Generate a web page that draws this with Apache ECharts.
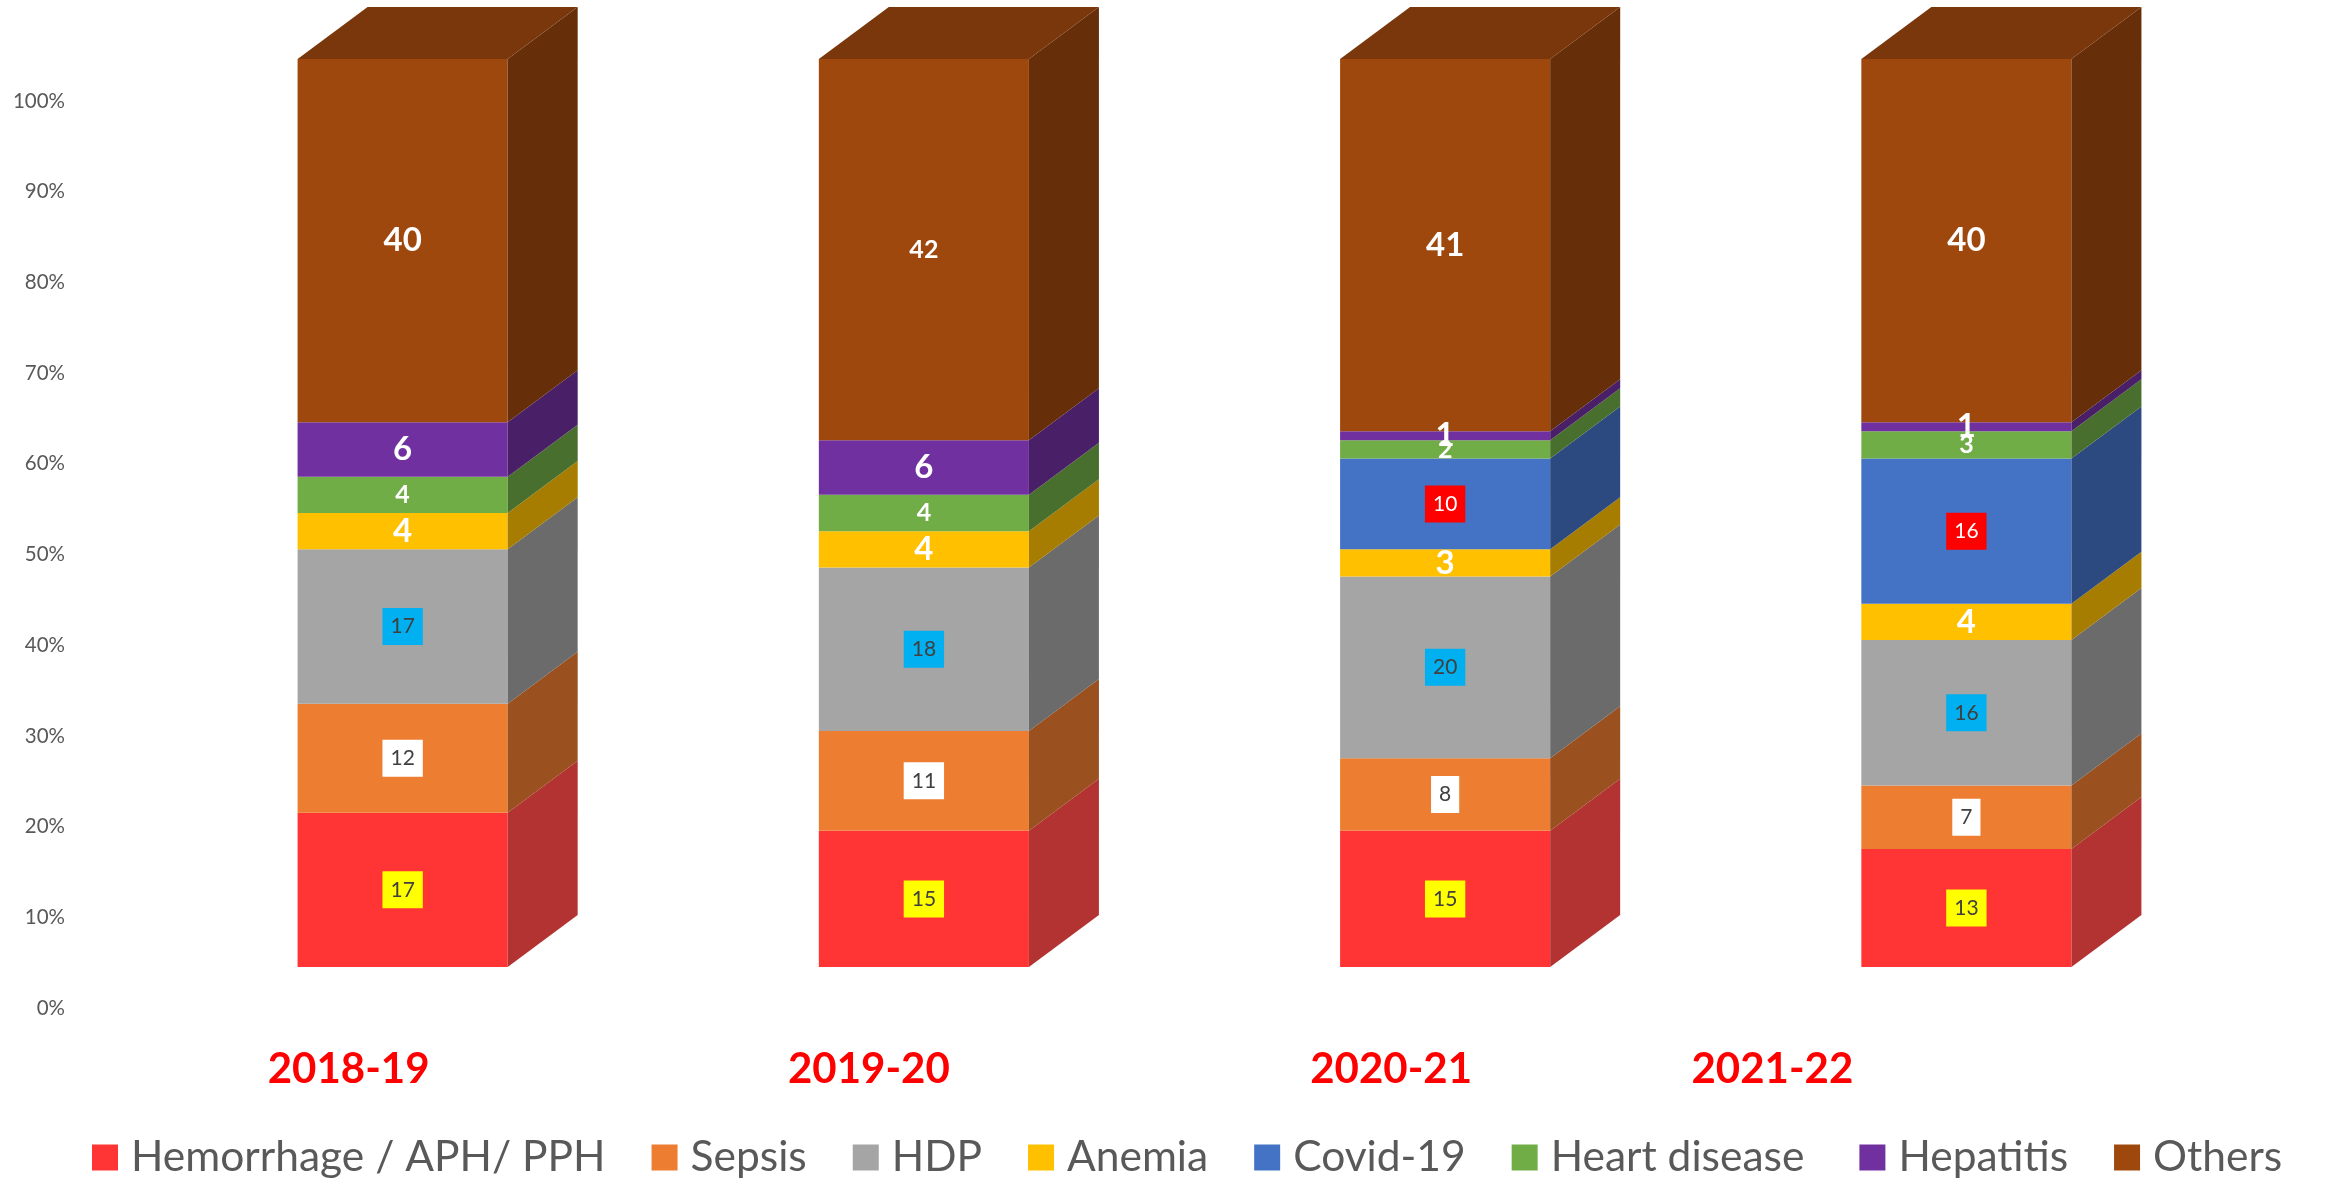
<!DOCTYPE html>
<html>
<head>
<meta charset="utf-8">
<script src="https://cdn.jsdelivr.net/npm/echarts@6/dist/echarts.min.js"></script>
<style>
  html, body { margin: 0; padding: 0; background: #ffffff; }
  #chart { width: 2328px; height: 1182px; }
</style>
</head>
<body>
<div id="chart"></div>
<script>
// ---------- data ----------
const categories = ['2018-19', '2019-20', '2020-21', '2021-22'];
const seriesNames = ['Hemorrhage / APH/ PPH', 'Sepsis', 'HDP', 'Anemia', 'Covid-19', 'Heart disease', 'Hepatitis', 'Others'];
const hemorrhage = [17, 15, 15, 13];
const sepsis     = [12, 11, 8, 7];
const hdp        = [17, 18, 20, 16];
const anemia     = [4, 4, 3, 4];
const covid      = [0, 0, 10, 16];
const heart      = [4, 4, 2, 3];
const hepatitis  = [6, 6, 1, 1];
const others     = [40, 42, 41, 40];
const valueTicks = [0, 10, 20, 30, 40, 50, 60, 70, 80, 90, 100];

// ---------- styles ----------
const allValues = [hemorrhage, sepsis, hdp, anemia, covid, heart, hepatitis, others];
const frontColors = ['#FF3535', '#ED7D31', '#A5A5A5', '#FFC000', '#4472C4', '#70AD47', '#7030A0', '#9E480E'];
const sideColors  = ['#B33232', '#9A501F', '#6B6B6B', '#A67D00', '#2C4A80', '#496F2E', '#491F68', '#672F09'];
const topColor = '#7A370B';
const FONT = 'Lato, "Open Sans", sans-serif';
const boxLabel = (bg, fg) => ({ font: '400 21px ' + FONT, fill: fg, backgroundColor: bg, padding: [8, 8, 8, 8], lineHeight: 21 });
const boldLabel = (size) => ({ font: '700 ' + size + 'px ' + FONT, fill: '#FFFFFF' });
const labelStyles = [
  boxLabel('#FFFF00', '#404040'),
  boxLabel('#FFFFFF', '#404040'),
  boxLabel('#00B0F0', '#404040'),
  boldLabel(33),
  boxLabel('#FF0000', '#FFFFFF'),
  boldLabel(25),
  boldLabel(33),
  boldLabel(33)
];
const labelOverrides = { '7-1': boldLabel(25) };
const DX = 70, DY = 52, BAR_FRAC = 0.403;

// cumulative stacking
const bases = categories.map(() => 0);
const seriesData = allValues.map(arr => arr.map((v, i) => {
  const b = bases[i];
  bases[i] += v;
  return [i, b, b + v, v];
}));

function makeRender(si) {
  const last = si === allValues.length - 1;
  return function (params, api) {
    const ci = api.value(0), base = api.value(1), topV = api.value(2), v = api.value(3);
    if (!v) return null;
    const p0 = api.coord([ci, base]);
    const p1 = api.coord([ci, topV]);
    const bw = api.size([1, 0])[0] * BAR_FRAC;
    const xl = p0[0] - bw / 2, xr = p0[0] + bw / 2;
    const yb = p0[1], yt = p1[1];
    const children = [
      { type: 'rect', shape: { x: xl, y: yt, width: bw, height: yb - yt }, style: { fill: frontColors[si] }, z2: 1 },
      { type: 'polygon', shape: { points: [[xr, yb], [xr + DX, yb - DY], [xr + DX, yt - DY], [xr, yt]] }, style: { fill: sideColors[si] }, z2: 1 }
    ];
    if (last) {
      children.push({ type: 'polygon', shape: { points: [[xl, yt], [xr, yt], [xr + DX, yt - DY], [xl + DX, yt - DY]] }, style: { fill: topColor }, z2: 1 });
    }
    const ls = labelOverrides[si + '-' + ci] || labelStyles[si];
    children.push({
      type: 'text', z2: 50,
      x: p0[0], y: (yb + yt) / 2,
      style: Object.assign({ text: String(v), align: 'center', verticalAlign: 'middle' }, ls)
    });
    return { type: 'group', children: children };
  };
}

const labelShift = [108, 110, 108, 388];
const rich = {};
labelShift.forEach((s, i) => {
  rich['c' + i] = { fontFamily: FONT, fontWeight: 700, fontSize: 42, lineHeight: 42, color: '#FF0000', padding: [0, s, 0, 0] };
});

const chart = echarts.init(document.getElementById('chart'), null, { renderer: 'canvas' });
chart.setOption({
  animation: false,
  backgroundColor: '#ffffff',
  grid: [
    { left: 142, width: 2085, top: 59, height: 908 },
    { left: 75, width: 10, top: 101, height: 907 }
  ],
  xAxis: [
    {
      type: 'category', gridIndex: 0, data: categories,
      axisLine: { show: false }, axisTick: { show: false }, splitLine: { show: false },
      axisLabel: { margin: 81, interval: 0, formatter: (v, i) => '{c' + i + '|' + v + '}', rich: rich }
    },
    { type: 'value', gridIndex: 1, show: false }
  ],
  yAxis: [
    { type: 'value', gridIndex: 0, min: 0, max: 100, show: false },
    {
      type: 'value', gridIndex: 1, min: valueTicks[0], max: valueTicks[valueTicks.length - 1], interval: 10,
      axisLine: { show: false }, axisTick: { show: false }, splitLine: { show: false },
      axisLabel: { margin: 10, formatter: '{value}%', fontFamily: FONT, fontSize: 20.5, color: '#595959' }
    }
  ],
  legend: {
    left: 92, top: 1136, padding: 0,
    itemWidth: 26, itemHeight: 26, itemGap: 46, icon: 'rect',
    data: seriesNames,
    formatter: name => name === 'Heart disease' ? '{h|' + name + '}' : name,
    textStyle: {
      fontFamily: FONT, fontSize: 42.5, lineHeight: 26, color: '#595959', padding: [0, 0, 0, 8],
      rich: { h: { fontFamily: FONT, fontSize: 42.5, lineHeight: 26, color: '#595959', padding: [0, 9, 0, 0] } }
    }
  },
  series: allValues.map((arr, si) => ({
    type: 'custom',
    name: seriesNames[si],
    xAxisIndex: 0, yAxisIndex: 0,
    clip: false,
    itemStyle: { color: frontColors[si] },
    renderItem: makeRender(si),
    encode: { x: 0, y: [1, 2] },
    data: seriesData[si]
  }))
});
</script>
</body>
</html>
